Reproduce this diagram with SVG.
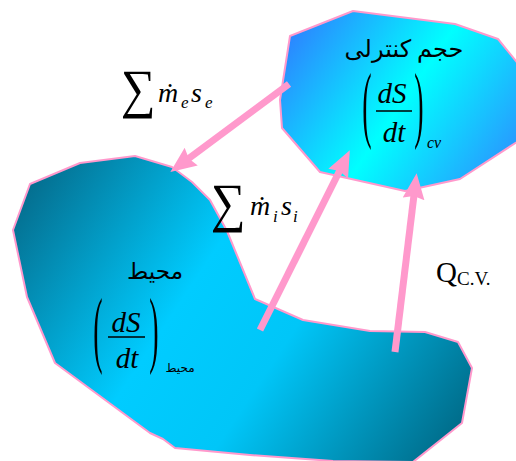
<svg xmlns="http://www.w3.org/2000/svg" width="516" height="461" viewBox="0 0 516 461">
<style>
.shape{stroke:#ff99cc;stroke-width:2;stroke-linejoin:round}
.conn{stroke:#ff99cc;stroke-width:7;fill:none}
.math{font-family:"Liberation Serif","Times New Roman",serif;font-style:italic;fill:#000}
.up{font-family:"Liberation Serif","Times New Roman",serif;fill:#000}
.fa{font-family:"Liberation Serif","DejaVu Sans",sans-serif;fill:#000}
</style>
<defs>
<linearGradient id="gSur" gradientUnits="userSpaceOnUse" x1="13" y1="156" x2="472" y2="461">
<stop offset="0" stop-color="#05607e"/>
<stop offset="0.4" stop-color="#00ccff"/>
<stop offset="0.6" stop-color="#00c6f8"/>
<stop offset="1" stop-color="#005f7a"/>
</linearGradient>
<linearGradient id="gCv" gradientUnits="userSpaceOnUse" x1="285" y1="25" x2="516" y2="185">
<stop offset="0" stop-color="#2f7cff"/>
<stop offset="0.5" stop-color="#00ffff"/>
<stop offset="1" stop-color="#2f88ff"/>
</linearGradient>
<marker id="ah" markerUnits="userSpaceOnUse" viewBox="0 0 26 22" markerWidth="26" markerHeight="22" refX="4" refY="11" orient="auto">
<path d="M0,0 L26,11 L0,22 L3,11 Z" fill="#ff99cc"/>
</marker>
</defs>

<g id="surroundings">
<polygon class="shape" fill="url(#gSur)" points="30,184 80,163 135,156 172,167 192,182 210,200 227,231 255,299 303,320 370,331 425,332 458,342 472,368 462,423 413,462 333,461 250,455 175,448 163,439 150,433 55,363 27,297 13,230"/>
<text class="fa" x="155" y="279" font-size="23" text-anchor="middle">محیط</text>
<text class="up" x="0" y="0" font-size="28" text-anchor="middle" transform="translate(98,357) scale(1,3)">(</text>
<text class="up" x="0" y="0" font-size="28" text-anchor="middle" transform="translate(154,357) scale(1,3)">)</text>
<text class="math" x="126" y="332" font-size="29" text-anchor="middle">dS</text>
<line x1="108" y1="337" x2="145" y2="337" stroke="#000" stroke-width="1.3"/>
<text class="math" x="127" y="368" font-size="29" text-anchor="middle">dt</text>
<text class="fa" x="180" y="372" font-size="12" text-anchor="middle">محیط</text>
</g>

<g id="control-volume">
<polygon class="shape" fill="url(#gCv)" points="290,36 353,11 455,24 498,39 520,66 520,140 460,179 405,191 320,172 282,128 280,100"/>
<text class="fa" x="404" y="57" font-size="24" text-anchor="middle">حجم کنترلی</text>
<text class="up" x="0" y="0" font-size="28" text-anchor="middle" transform="translate(367,132) scale(1,3)">(</text>
<text class="up" x="0" y="0" font-size="28" text-anchor="middle" transform="translate(419,132) scale(1,3)">)</text>
<text class="math" x="392" y="103" font-size="29" text-anchor="middle">dS</text>
<line x1="376" y1="111" x2="412" y2="111" stroke="#000" stroke-width="1.3"/>
<text class="math" x="394" y="142" font-size="29" text-anchor="middle">dt</text>
<text class="math" x="427" y="148" font-size="16">cv</text>
</g>

<g id="connectors">
<line class="conn" x1="289" y1="84" x2="188" y2="159" marker-end="url(#ah)"/>
<line class="conn" x1="260" y1="330" x2="340" y2="170" marker-end="url(#ah)"/>
<line class="conn" x1="395" y1="352" x2="414" y2="195" marker-end="url(#ah)"/>
</g>

<g id="label-me">
<text class="up" x="0" y="0" font-size="40" transform="translate(121,107) scale(1.22,1.35)">∑</text>
<text class="math" x="158" y="102" font-size="28">ṁ</text>
<text class="math" x="181" y="108" font-size="17">e</text>
<text class="math" x="191" y="102" font-size="28">s</text>
<text class="math" x="205" y="108" font-size="17">e</text>
</g>

<g id="label-mi">
<text class="up" x="0" y="0" font-size="40" transform="translate(211,221) scale(1.22,1.35)">∑</text>
<text class="math" x="250" y="215" font-size="28">ṁ</text>
<text class="math" x="273" y="222" font-size="17">i</text>
<text class="math" x="281" y="215" font-size="28">s</text>
<text class="math" x="293" y="222" font-size="17">i</text>
</g>

<g id="label-q">
<text class="up" x="436" y="282" font-size="29">Q<tspan font-size="19" dy="3">C.V.</tspan></text>
</g>
</svg>
